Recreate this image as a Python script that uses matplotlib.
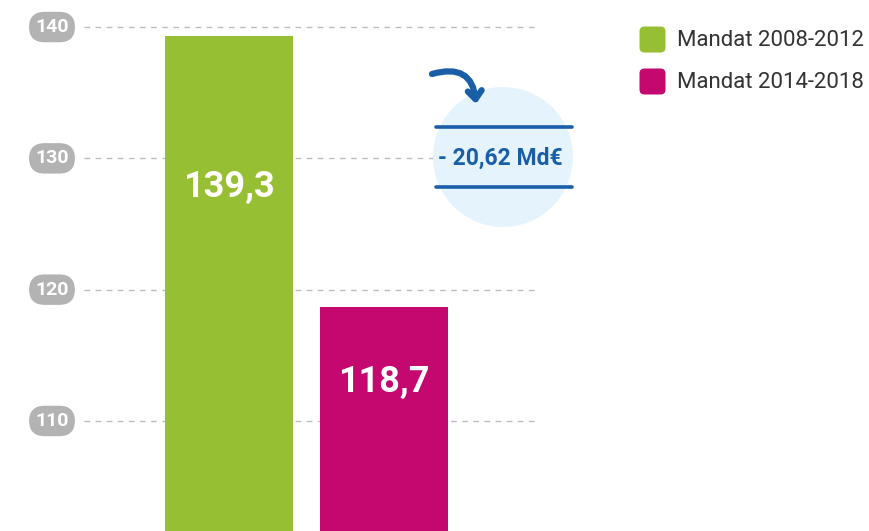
import matplotlib.pyplot as plt
from matplotlib.patches import FancyBboxPatch, Circle, FancyArrowPatch
from matplotlib.transforms import blended_transform_factory

# data
mandats = ["Mandat 2008-2012", "Mandat 2014-2018"]
montants = [139.3, 118.7]
labels = ["139,3", "118,7"]
label_y = [127.8, 113.0]
yticks = [110, 120, 130, 140]
ecart = "- 20,62 Md€"

colors = ["#97bf33", "#c4086f"]
blue = "#1a5ea8"

plt.rcParams['font.family'] = ['Roboto', 'DejaVu Sans']

fig = plt.figure(figsize=(8.69, 5.31), dpi=100)
ax = fig.add_axes([0, 0, 1, 1])
ax.set_xlim(-1.477, 4.129)
ax.set_ylim(101.62, 142.06)
ax.axis('off')

# dashed grid lines
ax.hlines(yticks, -0.935, 1.974, colors="#bdbdbd", linewidth=1,
          linestyles=(0, (4, 4)), zorder=0)

x = range(len(montants))
ax.bar(x, montants, width=0.826, color=colors, zorder=2)

for i, (lab, ly) in enumerate(zip(labels, label_y)):
    ax.text(i, ly, lab, color="white", fontsize=26, fontweight="bold",
            ha="center", va="center", zorder=3)

# y tick pills
trans = blended_transform_factory(ax.transAxes, ax.transData)
for t in yticks:
    ax.text(52 / 869, t, str(t), transform=trans, color="white", fontsize=14,
            fontweight="bold", ha="center", va="center",
            bbox=dict(boxstyle="round,pad=0.32,rounding_size=0.8",
                      fc="#b3b3b3", ec="none"))

# overlay in pixel coordinates for legend and callout
ov = fig.add_axes([0, 0, 1, 1])
ov.set_xlim(0, 869)
ov.set_ylim(531, 0)
ov.axis('off')

for i, (name, c) in enumerate(zip(mandats, colors)):
    y0 = 26 + i * 42
    ov.add_patch(FancyBboxPatch((641, y0 + 2), 23, 23,
                                boxstyle="round,pad=1.5,rounding_size=5",
                                fc=c, ec="none"))
    ov.text(677, y0 + 14, name, fontsize=16, color="#333333",
            ha="left", va="center")

ov.add_patch(Circle((503, 157), 70, fc="#e5f3fc", ec="none"))
ov.plot([436, 572], [127, 127], color=blue, lw=2.6, solid_capstyle="round")
ov.plot([436, 572], [187, 187], color=blue, lw=2.6, solid_capstyle="round")
ov.text(500, 158, ecart, fontsize=16.5, fontweight="bold", color=blue,
        ha="center", va="center")
ov.add_patch(FancyArrowPatch((432, 74), (476, 104),
                             connectionstyle="arc3,rad=-0.6",
                             arrowstyle="->,head_length=6,head_width=5",
                             color=blue, lw=4.5, capstyle="round",
                             joinstyle="round", shrinkA=0, shrinkB=0))

fig.savefig("out.png", dpi=100)
